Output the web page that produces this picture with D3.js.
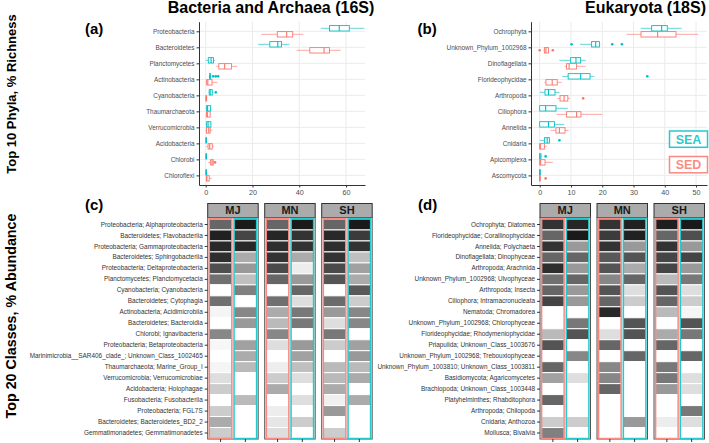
<!DOCTYPE html>
<html><head><meta charset="utf-8">
<script src="https://cdn.jsdelivr.net/npm/d3@7"></script>
<style>
body{margin:0;background:#fff}
svg{display:block}
text{font-family:"Liberation Sans",Arial,Helvetica,sans-serif}
</style>
</head><body>
<svg id="chart" width="709" height="443"></svg>
<script>
// ---------------- DATA ----------------
const habitats = ["SEA", "SED"];
const sites = ["MJ", "MN", "SH"];
const heatGroups = ["SED", "SEA"];

const phyla16S = ["Proteobacteria","Bacteroidetes","Planctomycetes","Actinobacteria","Cyanobacteria","Thaumarchaeota","Verrucomicrobia","Acidobacteria","Chlorobi","Chloroflexi"];
// [lower whisker, Q1, median, Q3, upper whisker]
const sea16S = [[49.2,52.9,57.1,61.4,67.8],[22.4,27.4,30.8,32.4,35.8],[0,1.1,2.3,3.3,4.0],[1.4,1.6,1.8,2.0,2.3],[1.2,1.5,1.9,2.8,3.2],[0,0.4,0.8,2.1,2.3],[0,0.4,1.0,2.2,2.4],[0,0.1,0.2,0.3,0.4],[0,0.1,0.2,0.3,0.4],[0,0.1,0.2,0.3,0.4]];
const sed16S = [[23.7,30.6,34.6,37.2,41.7],[38.9,44.5,50.6,52.9,57.7],[4.5,5.6,8.1,11.0,13.4],[0,0.4,0.9,2.7,5.0],[0,0.1,0.2,0.4,0.6],[0,0.3,0.7,1.9,2.0],[0,0.3,1.3,1.9,2.8],[0.2,1.0,1.7,2.8,3.5],[1.1,2.1,2.7,3.2,3.6],[0,0.3,0.5,1.5,2.6]];
const sea16SOut = [[],[],[],[3.2,4.3,5.3],[4.3],[],[],[],[],[]];
const sed16SOut = [[],[],[],[],[],[],[],[],[4.0],[]];
const ticks16S = [0,20,40,60];
const lim16S = [-2.87, 68.1];

const phyla18S = ["Ochrophyta","Unknown_Phylum_1002968","Dinoflagellata","Florideophycidae","Arthropoda","Ciliophora","Annelida","Cnidaria","Apicomplexa","Ascomycota"];
const sea18S = [[32.3,35.8,39.0,40.8,45.4],[12.9,16.6,17.9,19.1,19.4],[6.3,9.9,11.6,13.1,14.7],[7.2,9.1,13.1,16.1,17.5],[0.1,1.7,2.8,4.9,6.3],[0,0,1.9,5.2,9.0],[0,0,2.8,4.7,7.8],[0.1,1.5,2.4,3.1,3.3],[0,0,0.1,0.4,0.6],[0,0,0,0.2,0.3]];
const sed18S = [[27.8,32.4,37.7,43.6,50.7],[1.2,1.5,2.0,2.8,3.0],[8.0,8.6,9.4,11.8,14.7],[1.5,2.0,4.0,5.6,7.0],[5.6,6.5,7.8,9.0,9.7],[5.4,8.6,11.8,13.2,20.0],[3.5,5.2,6.3,8.1,9.2],[0,0,0.2,1.5,2.2],[0,0,0.3,1.7,4.2],[0,0,0,0.1,0.2]];
const sea18SOut = [[],[10.2,23.2,26.3],[],[34.4],[],[],[],[6.3],[1.9],[]];
const sed18SOut = [[],[0,4.2],[],[],[13.9],[],[],[],[],[1.9]];
const ticks18S = [0,10,20,30,40,50];
const lim18S = [-2.78, 53.5];

const classes16S = ["Proteobacteria; Alphaproteobacteria","Bacteroidetes; Flavobacteriia","Proteobacteria; Gammaproteobacteria","Bacteroidetes; Sphingobacteriia","Proteobacteria; Deltaproteobacteria","Planctomycetes; Planctomycetacia","Cyanobacteria; Cyanobacteria","Bacteroidetes; Cytophagia","Actinobacteria; Acidimicrobiia","Bacteroidetes; Bacteroidia","Chlorobi; Ignavibacteria","Proteobacteria; Betaproteobacteria","Marinimicrobia__SAR406_clade_; Unknown_Class_1002465","Thaumarchaeota; Marine_Group_I","Verrucomicrobia; Verrucomicrobiae","Acidobacteria; Holophagae","Fusobacteria; Fusobacteriia","Proteobacteria; FGL7S","Bacteroidetes; Bacteroidetes_BD2_2","Gemmatimonadetes; Gemmatimonadetes"];
// shading (0 = white, 100 = black), one value per class
const h16_MJ_SED = [60,87,84,82,69,56,0,56,4,0,47,3,0,4,13,20,0,20,33,20];
const h16_MJ_SEA = [90,73,84,33,40,25,50,0,47,40,0,37,33,27,0,0,27,0,0,0];
const h16_MN_SED = [60,85,82,80,71,60,0,56,33,27,47,13,0,7,20,33,0,7,10,13];
const h16_MN_SEA = [90,80,80,33,7,40,60,13,53,53,0,40,37,25,13,0,13,0,20,0];
const h16_SH_SED = [60,84,82,80,71,67,0,58,40,13,53,20,0,27,27,33,6,40,0,20];
const h16_SH_SEA = [90,77,80,25,37,33,65,20,47,47,0,37,40,27,33,0,33,0,0,0];

const classes18S = ["Ochrophyta; Diatomea","Florideophycidae; Corallinophycidae","Annelida; Polychaeta","Dinoflagellata; Dinophyceae","Arthropoda; Arachnida","Unknown_Phylum_1002968; Ulvophyceae","Arthropoda; Insecta","Ciliophora; Intramacronucleata","Nematoda; Chromadorea","Unknown_Phylum_1002968; Chlorophyceae","Florideophycidae; Rhodymeniophycidae","Priapulida; Unknown_Class_1003676","Unknown_Phylum_1002968; Trebouxiophyceae","Unknown_Phylum_1003810; Unknown_Class_1003811","Basidiomycota; Agaricomycetes","Brachiopoda; Unknown_Class_1003448","Platyhelminthes; Rhabditophora","Arthropoda; Chilopoda","Cnidaria; Anthozoa","Mollusca; Bivalvia"];
const h18_MJ_SED = [80,60,80,60,82,56,60,73,0,0,27,67,0,60,37,0,60,0,20,50];
const h18_MJ_SEA = [85,90,40,60,40,60,40,40,0,53,67,0,47,0,13,0,0,0,20,0];
const h18_MN_SED = [80,77,80,65,67,47,67,60,84,0,13,60,0,47,47,60,0,0,0,0];
const h18_MN_SEA = [87,87,40,67,33,60,13,20,0,67,67,0,60,0,0,0,0,0,40,0];
const h18_SH_SED = [88,60,80,73,73,27,67,60,27,0,33,60,0,53,53,40,0,0,7,0];
const h18_SH_SEA = [90,69,40,73,40,53,13,20,4,67,53,0,60,0,13,13,0,53,13,0];

// ---------------- DRAWING ----------------
const svg = d3.select("#chart");
const col = {SEA: "#00BFC4", SED: "#F8766D"};
const heatFill = d3.scaleLinear().domain([0, 100]).range(["#ffffff", "#000000"]);

function boxPanel(cfg) {
  const g = svg.append("g");
  const x = d3.scaleLinear().domain(cfg.lim).range([cfg.left, cfg.right]);
  const y = d3.scalePoint().domain(cfg.phyla).range([cfg.top, cfg.bottom]).padding(0.6);
  g.selectAll("line.vg").data(cfg.ticks).join("line")
    .attr("x1", d => x(d)).attr("x2", d => x(d))
    .attr("y1", cfg.top).attr("y2", cfg.bottom)
    .attr("stroke", "#ebebeb").attr("stroke-width", 1);
  g.selectAll("line.hg").data(cfg.phyla).join("line")
    .attr("x1", cfg.left).attr("x2", cfg.right)
    .attr("y1", d => y(d)).attr("y2", d => y(d))
    .attr("stroke", "#ebebeb").attr("stroke-width", 1);
  const off = {SEA: -3, SED: 3};
  const stats = {SEA: cfg.sea, SED: cfg.sed};
  const outs = {SEA: cfg.seaOut, SED: cfg.sedOut};
  const hh = 2.7;
  habitats.forEach(h => {
    cfg.phyla.forEach((p, i) => {
      const s = stats[h][i];
      const cy = y(p) + off[h];
      const gg = g.append("g").attr("stroke", col[h]).attr("fill", "none");
      gg.append("line").attr("x1", x(s[0])).attr("x2", x(s[1])).attr("y1", cy).attr("y2", cy)
        .attr("stroke-width", 0.9).attr("stroke-opacity", 0.7);
      gg.append("line").attr("x1", x(s[3])).attr("x2", x(s[4])).attr("y1", cy).attr("y2", cy)
        .attr("stroke-width", 0.9).attr("stroke-opacity", 0.7);
      gg.append("rect").attr("x", x(s[1])).attr("y", cy - hh)
        .attr("width", Math.max(0.6, x(s[3]) - x(s[1]))).attr("height", 2 * hh)
        .attr("fill", "#fff").attr("stroke-width", 0.9);
      gg.append("line").attr("x1", x(s[2])).attr("x2", x(s[2])).attr("y1", cy - hh).attr("y2", cy + hh)
        .attr("stroke-width", 1.1);
      outs[h][i].forEach(v => {
        g.append("circle").attr("cx", x(v)).attr("cy", cy).attr("r", 1.3).attr("fill", col[h]);
      });
    });
  });
  const ax = g.append("g").attr("transform", `translate(0,${cfg.bottom})`)
    .call(d3.axisBottom(x).tickValues(cfg.ticks).tickSize(2.5).tickSizeOuter(0).tickPadding(2));
  ax.select(".domain").attr("stroke", "#333").attr("stroke-width", 1);
  ax.selectAll(".tick line").attr("stroke", "#333");
  ax.selectAll(".tick text").attr("fill", "#4d4d4d").attr("font-size", 7.2).style("font-family", "Liberation Sans, Arial, sans-serif");
  const ay = g.append("g").attr("transform", `translate(${cfg.left},0)`)
    .call(d3.axisLeft(y).tickSize(2.5).tickSizeOuter(0).tickPadding(2));
  ay.select(".domain").attr("stroke", "#333").attr("stroke-width", 1);
  ay.selectAll(".tick line").attr("stroke", "#333");
  ay.selectAll(".tick text").attr("fill", "#4d4d4d").attr("font-size", 6.4).style("font-family", "Liberation Sans, Arial, sans-serif");
  return {x, y};
}

boxPanel({phyla: phyla16S, sea: sea16S, sed: sed16S, seaOut: sea16SOut, sedOut: sed16SOut,
  lim: lim16S, ticks: ticks16S, left: 199, right: 365, top: 21.7, bottom: 185});
boxPanel({phyla: phyla18S, sea: sea18S, sed: sed18S, seaOut: sea18SOut, sedOut: sed18SOut,
  lim: lim18S, ticks: ticks18S, left: 531, right: 707, top: 21.7, bottom: 185});

// legend (inside panel b)
[["SEA", 131, 16.3], ["SED", 156.5, 16.3]].forEach(([h, yy, hgt]) => {
  svg.append("rect").attr("x", 669.5).attr("y", yy).attr("width", 38).attr("height", hgt)
    .attr("fill", "#fff").attr("stroke", col[h]).attr("stroke-width", 1.5).attr("stroke-opacity", 0.85);
  svg.append("text").attr("x", 688.5).attr("y", yy + 12.6).attr("text-anchor", "middle")
    .attr("font-size", 12.5).attr("font-weight", "bold").attr("fill", col[h]).attr("fill-opacity", 0.85).text(h);
});

function heatPanel(cfg) {
  const g = svg.append("g");
  const y = d3.scaleBand().domain(cfg.classes).range([cfg.top, cfg.bottom]);
  const fw = 50.5, gap = 6.5;
  const xi = d3.scaleBand().domain(heatGroups).range([0, fw]).paddingInner(0.09).paddingOuter(0.065);
  sites.forEach((site, k) => {
    const x0 = cfg.left + k * (fw + gap);
    g.append("rect").attr("x", x0).attr("y", cfg.stripTop).attr("width", fw).attr("height", cfg.top - 1.5 - cfg.stripTop)
      .attr("fill", "#ababab").attr("stroke", "#333").attr("stroke-width", 1);
    g.append("text").attr("x", x0 + fw / 2).attr("y", cfg.stripTop + 10.8).attr("text-anchor", "middle")
      .attr("font-size", 11).attr("font-weight", "bold").attr("fill", "#1a1a1a").text(site);
    g.append("rect").attr("x", x0).attr("y", cfg.top - 1.5).attr("width", fw).attr("height", cfg.bottom - cfg.top + 2)
      .attr("fill", "#f4f4f4").attr("stroke", "#555").attr("stroke-width", 1);
    heatGroups.forEach(h => {
      const vals = cfg.values[site][h];
      g.selectAll(null).data(cfg.classes).join("rect")
        .attr("x", x0 + xi(h)).attr("width", xi.bandwidth())
        .attr("y", d => y(d)).attr("height", y.bandwidth())
        .attr("fill", (d, i) => heatFill(vals[i]))
        .attr("stroke", "#fff").attr("stroke-width", 1);
      g.append("rect").attr("x", x0 + xi(h)).attr("width", xi.bandwidth())
        .attr("y", cfg.top - 0.5).attr("height", cfg.bottom - cfg.top + 0.5)
        .attr("fill", "none").attr("stroke", col[h]).attr("stroke-width", 1.5).attr("stroke-opacity", 0.85);
      g.append("line").attr("x1", x0 + xi(h) + xi.bandwidth() / 2).attr("x2", x0 + xi(h) + xi.bandwidth() / 2)
        .attr("y1", cfg.bottom + 0.5).attr("y2", cfg.bottom + 3.5).attr("stroke", "#333");
    });
  });
  const ay = g.append("g").attr("transform", `translate(${cfg.left},0)`)
    .call(d3.axisLeft(y).tickSize(3).tickSizeOuter(0).tickPadding(2));
  ay.select(".domain").remove();
  ay.selectAll(".tick line").attr("stroke", "#333");
  ay.selectAll(".tick text").attr("fill", "#333").attr("font-size", 6.4).style("font-family", "Liberation Sans, Arial, sans-serif");
}

heatPanel({classes: classes16S, left: 207.7, top: 219, bottom: 438.5, stripTop: 203.5,
  values: {MJ: {SED: h16_MJ_SED, SEA: h16_MJ_SEA}, MN: {SED: h16_MN_SED, SEA: h16_MN_SEA}, SH: {SED: h16_SH_SED, SEA: h16_SH_SEA}}});
heatPanel({classes: classes18S, left: 540, top: 219, bottom: 438.5, stripTop: 203.5,
  values: {MJ: {SED: h18_MJ_SED, SEA: h18_MJ_SEA}, MN: {SED: h18_MN_SED, SEA: h18_MN_SEA}, SH: {SED: h18_SH_SED, SEA: h18_SH_SEA}}});

// titles and labels
svg.append("text").attr("x", 271).attr("y", 13.3).attr("text-anchor", "middle")
  .attr("font-size", 16).attr("font-weight", "bold").attr("fill", "#000").text("Bacteria and Archaea (16S)");
svg.append("text").attr("x", 645.5).attr("y", 13.3).attr("text-anchor", "middle")
  .attr("font-size", 16).attr("font-weight", "bold").attr("fill", "#000").text("Eukaryota (18S)");
[["(a)", 85, 34], ["(b)", 417.5, 34], ["(c)", 85, 209.5], ["(d)", 418, 209.5]].forEach(([t, xx, yy]) => {
  svg.append("text").attr("x", xx).attr("y", yy).attr("font-size", 15).attr("font-weight", "bold").attr("fill", "#000").text(t);
});
svg.append("text").attr("transform", "translate(15.5,94) rotate(-90)").attr("text-anchor", "middle")
  .attr("font-size", 13).attr("font-weight", "bold").attr("fill", "#000").text("Top 10 Phyla, % Richness");
svg.append("text").attr("transform", "translate(15.5,316) rotate(-90)").attr("text-anchor", "middle")
  .attr("font-size", 14.3).attr("font-weight", "bold").attr("fill", "#000").text("Top 20 Classes, % Abundance");
</script>
</body></html>
